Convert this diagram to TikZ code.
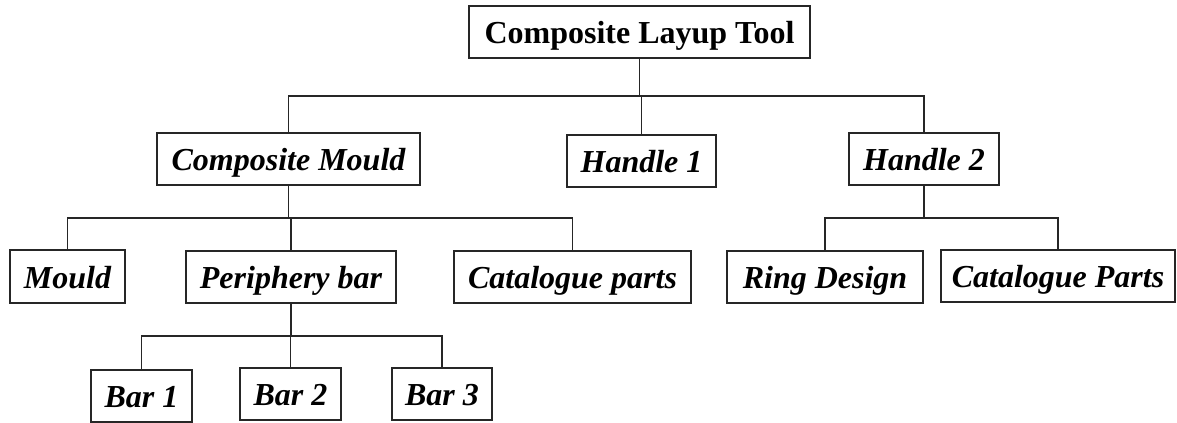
\documentclass[tikz,border=0pt]{standalone}
\usepackage{fontspec}
\setmainfont{Liberation Serif}
\begin{document}
\begin{tikzpicture}[x=0.75pt,y=-0.75pt,
  box/.style={draw=black!85,line width=1.1pt,fill=white,inner sep=0pt,
    text height=19pt,text depth=1pt,
    font=\fontsize{24}{28}\selectfont\bfseries\itshape},
  topbox/.style={box,font=\fontsize{24}{28}\selectfont\bfseries},
  link/.style={draw=black!85,line width=1.1pt}]
\useasboundingbox (0,0) rectangle (1177,423);
\node[topbox,minimum width=255.75pt,minimum height=39pt] (top) at (639.5,32) {Composite Layup Tool};
\node[box,minimum width=197.25pt,minimum height=39pt] (cm) at (288.5,159) {Composite Mould};
\node[box,minimum width=111.75pt,minimum height=39pt] (h1) at (641.5,161) {Handle 1};
\node[box,minimum width=112.5pt,minimum height=39pt] (h2) at (924,159) {Handle 2};
\node[box,minimum width=86.25pt,minimum height=39.75pt] (mould) at (67.5,276.5) {Mould};
\node[box,minimum width=157.5pt,minimum height=39pt] (pb) at (291,277) {Periphery bar};
\node[box,minimum width=177.75pt,minimum height=39pt] (cp) at (572.5,277) {Catalogue parts};
\node[box,minimum width=147pt,minimum height=39pt] (ring) at (825,277) {Ring Design};
\node[box,minimum width=175.5pt,minimum height=39pt] (cP) at (1058,276) {Catalogue Parts};
\node[box,minimum width=75.75pt,minimum height=39pt] (bar1) at (141.5,396) {Bar 1};
\node[box,minimum width=75.75pt,minimum height=39pt] (bar2) at (290.5,394) {Bar 2};
\node[box,minimum width=75pt,minimum height=39pt] (bar3) at (442,394) {Bar 3};
\coordinate (busA) at (0,96);
\coordinate (busB) at (0,218);
\coordinate (busC) at (0,336);
% level 1
\draw[link] (top.south) -- (top.south |- busA);
\draw[link] (cm.north) -- (cm.north |- busA) -- (h2.north |- busA) -- (h2.north);
\draw[link] (h1.north) -- (h1.north |- busA);
% composite mould children
\draw[link] (cm.south) -- (cm.south |- busB);
\draw[link] (mould.north) -- (mould.north |- busB) -- (cp.north |- busB) -- (cp.north);
\draw[link] (pb.north) -- (pb.north |- busB);
% handle 2 children
\draw[link] (h2.south) -- (h2.south |- busB);
\draw[link] (ring.north) -- (ring.north |- busB) -- (cP.north |- busB) -- (cP.north);
% periphery bar children
\draw[link] (pb.south) -- (pb.south |- busC);
\draw[link] (bar1.north) -- (bar1.north |- busC) -- (bar3.north |- busC) -- (bar3.north);
\draw[link] (bar2.north) -- (bar2.north |- busC);
\end{tikzpicture}
\end{document}
